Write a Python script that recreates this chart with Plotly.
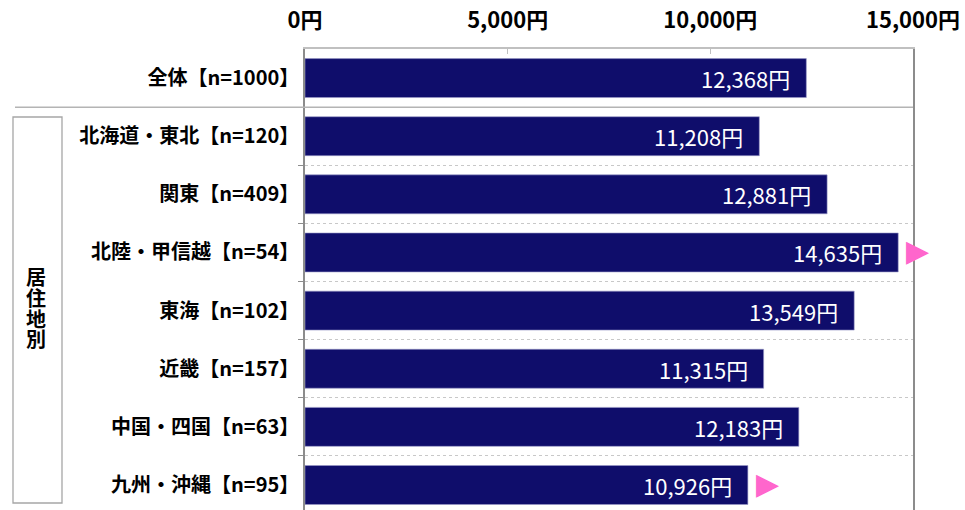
import plotly.graph_objects as go

categories = ["全体【n=1000】", "北海道・東北【n=120】", "関東【n=409】", "北陸・甲信越【n=54】",
              "東海【n=102】", "近畿【n=157】", "中国・四国【n=63】", "九州・沖縄【n=95】"]
values = [12368, 11208, 12881, 14635, 13549, 11315, 12183, 10926]
marked = [False, False, False, True, False, False, False, True]
tick_vals = [0, 5000, 10000, 15000]
tick_text = ["0円", "5,000円", "10,000円", "15,000円"]
group_label = "居住地別"

FONT = "Noto Sans CJK JP"
BAR = "#0f0d6b"
W, H = 965, 510
L, R, T, B = 305, 52, 49, 0
pw, ph = W - L - R, H - T - B

def px_x(p):
    return (p - L) / pw

def px_y(p):
    return (H - B - p) / ph

idx = list(range(len(categories)))

fig = go.Figure()
fig.add_trace(go.Bar(
    x=values, y=idx, orientation="h", width=0.67,
    marker=dict(color=BAR, line=dict(color="#9a9ac8", width=0.6)),
    hoverinfo="skip", showlegend=False,
))

annotations = []
for i, v in zip(idx, values):
    annotations.append(dict(
        x=v, y=i, xref="x", yref="y", text=f"{v:,}円", showarrow=False,
        xanchor="right", yanchor="middle", xshift=-14,
        font=dict(family=FONT, size=22, color="white"),
    ))

# pink triangles just after the end of flagged bars
for i, v, m in zip(idx, values, marked):
    if m:
        annotations.append(dict(
            x=v, y=i, xref="x", yref="y", text="▶", showarrow=False,
            xanchor="left", yanchor="middle", xshift=6, yshift=2,
            font=dict(family="DejaVu Sans", size=30, color="#ff66cc"),
        ))

# vertical group label, one character per line
for ch, yc in zip(group_label, [276, 297, 318, 339]):
    annotations.append(dict(
        x=px_x(36), y=px_y(yc), xref="paper", yref="paper",
        text=ch, showarrow=False, xanchor="center", yanchor="middle",
        height=21, borderpad=0,
        font=dict(family=FONT, size=20, color="black", weight="bold"),
    ))

shapes = [
    dict(type="rect", xref="paper", yref="paper",
         x0=px_x(13), x1=px_x(62), y0=px_y(503), y1=px_y(117),
         line=dict(color="#a6a6a6", width=1.3), fillcolor="rgba(0,0,0,0)"),
    dict(type="line", xref="paper", yref="y",
         x0=px_x(15), x1=1, y0=0.5, y1=0.5,
         line=dict(color="#b4b4b4", width=1.5)),
]

fig.update_layout(
    width=W, height=H,
    margin=dict(l=L, r=R, t=T, b=B, pad=0),
    paper_bgcolor="white", plot_bgcolor="white",
    bargap=0.33,
    annotations=annotations, shapes=shapes,
    xaxis=dict(
        side="top", range=[0, 15000], tickvals=tick_vals, ticktext=tick_text,
        showgrid=False, zeroline=False,
        showline=True, linecolor="#c0c0c0", linewidth=1.5, mirror=False,
        ticks="inside", ticklen=5, tickcolor="#c0c0c0",
        tickfont=dict(family=FONT, size=22, color="black", weight="bold"),
        ticklabelstandoff=10,
        fixedrange=True,
    ),
    yaxis=dict(
        range=[7.43, -0.5], tickvals=idx, ticktext=categories,
        showgrid=False, zeroline=False,
        showline=True, linecolor="#8c8c8c", linewidth=1.5, mirror=True,
        ticks="", ticklabelstandoff=0,
        tickfont=dict(family=FONT, size=20, color="black", weight="bold"),
        minor=dict(tickvals=[1.5, 2.5, 3.5, 4.5, 5.5, 6.5], showgrid=True,
                   gridcolor="#c8c8c8", griddash="dot", gridwidth=1,
                   ticks="outside", ticklen=5, tickcolor="#8c8c8c"),
        fixedrange=True,
    ),
)

fig.write_html("out.html", config={"displayModeBar": False},
               post_script="document.body.style.margin='0';")
